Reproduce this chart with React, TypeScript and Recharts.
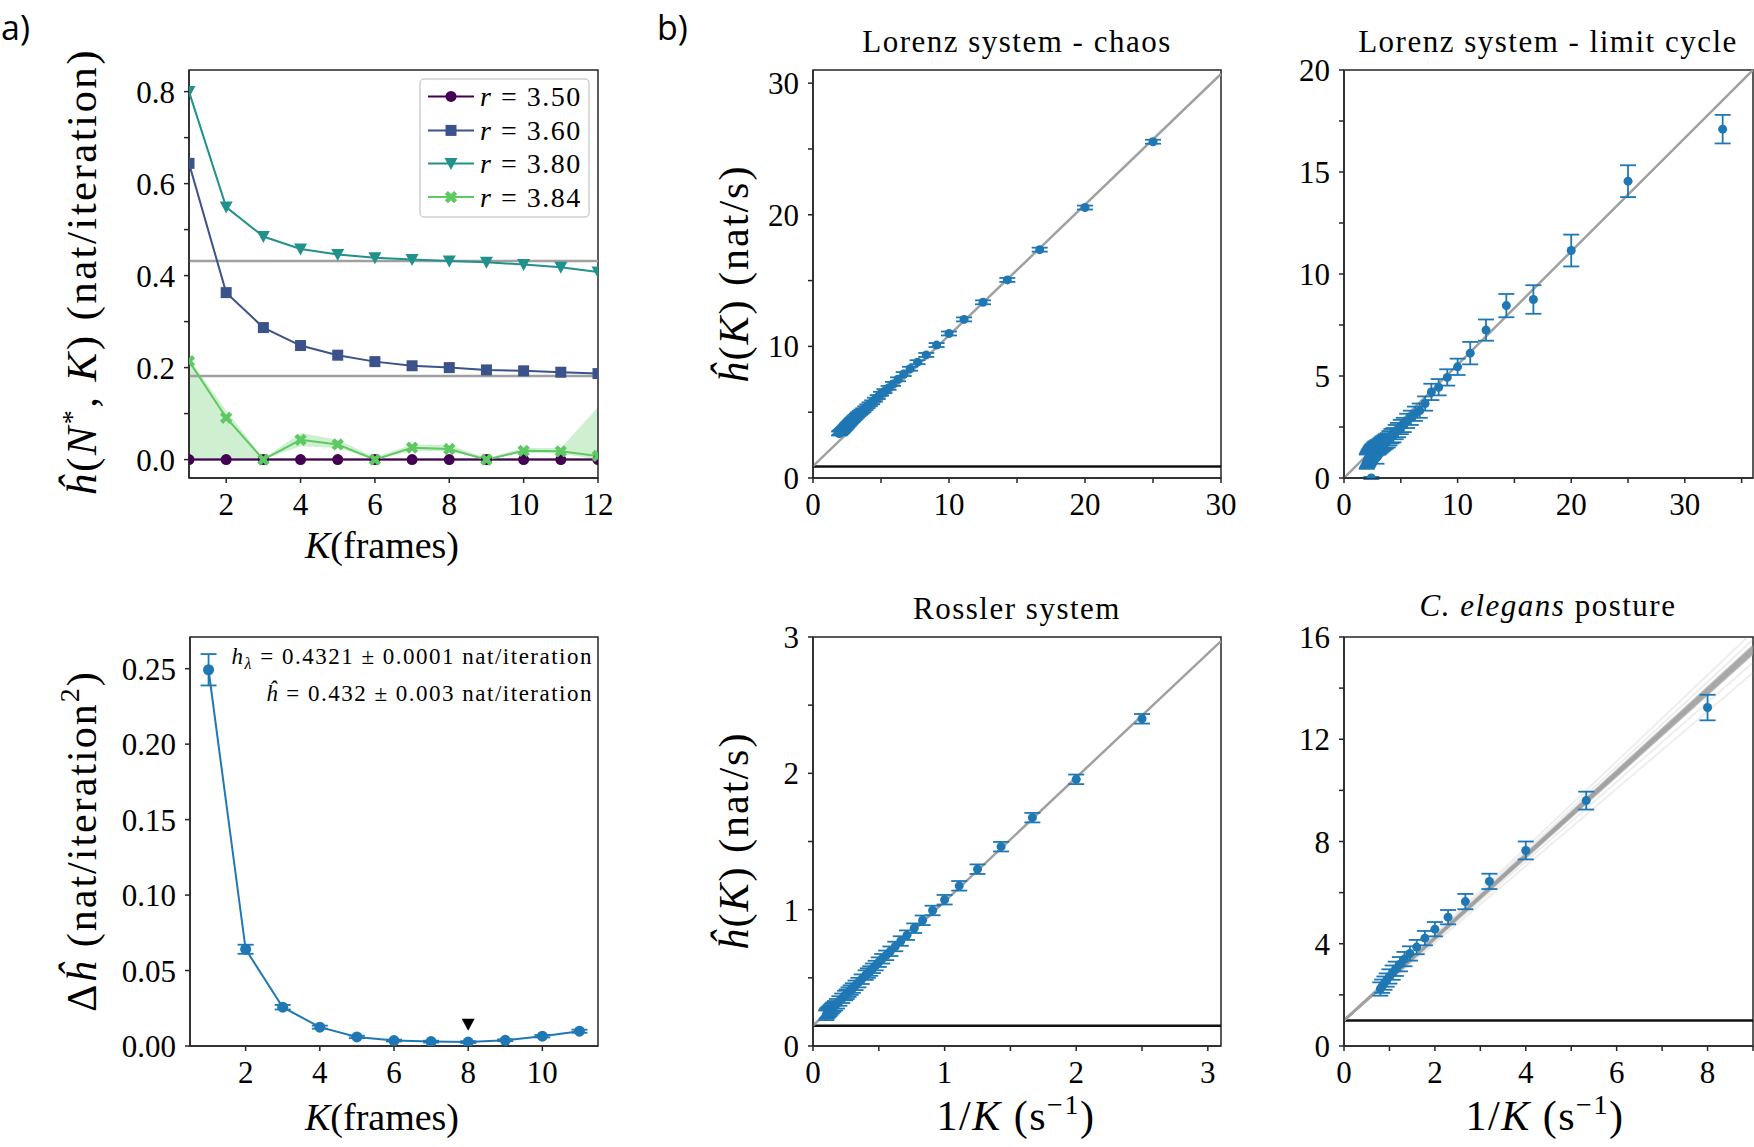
import React from 'react';
import {
  ComposedChart,
  Line,
  Area,
  Scatter,
  XAxis,
  YAxis,
  ErrorBar,
  ReferenceLine,
  ReferenceArea,
} from 'recharts';

const SERIF = "'Liberation Serif', 'DejaVu Serif', 'Noto Serif', serif";
const SANS = "'Open Sans', 'Noto Sans', sans-serif";
const BLUE = '#1f77b4';
const FIT = '#a0a0a0';
const AXIS = '#262626';

// ---- panel a, top: entropy rate vs K for the logistic map
const kFrames = [1, 2, 3, 4, 5, 6, 7, 8, 9, 10, 11, 12];
const h350 = [0, 0, 0, 0, 0, 0, 0, 0, 0, 0, 0, 0];
const h360 = [0.644, 0.363, 0.287, 0.248, 0.227, 0.213, 0.204, 0.2, 0.195, 0.193, 0.19, 0.187];
const h380 = [0.8, 0.549, 0.485, 0.458, 0.446, 0.439, 0.435, 0.432, 0.429, 0.424, 0.418, 0.408];
const h384 = [0.214, 0.091, 0.0, 0.043, 0.033, 0.0, 0.026, 0.023, 0.0, 0.019, 0.018, 0.008];
const h384Low = [0, 0, 0, 0.029, 0.025, 0, 0.019, 0.018, 0, 0.015, 0.013, 0];
const h384High = [0.22, 0.107, 0.002, 0.058, 0.043, 0.005, 0.033, 0.032, 0.003, 0.025, 0.025, 0.114];
const lyapunovRefs = [0.432, 0.182, 0];
const rLabels = ['3.50', '3.60', '3.80', '3.84'];
const rColors = ['#440154', '#3b528b', '#21918c', '#5ec962'];
const rMarkers = ['circle', 'square', 'tri', 'x'];
const rKeys = ['r350', 'r360', 'r380', 'r384'];
const aTopXTicks = [2, 4, 6, 8, 10, 12];
const aTopYTicks = [0, 0.1, 0.2, 0.3, 0.4, 0.5, 0.6, 0.7, 0.8];
const aTopYLabels = ['0.0', '', '0.2', '', '0.4', '', '0.6', '', '0.8'];

// ---- panel a, bottom: difference of entropy rates
const kDiff = [1, 2, 3, 4, 5, 6, 7, 8, 9, 10, 11];
const dh = [0.2493, 0.0641, 0.0257, 0.0125, 0.006, 0.0036, 0.0029, 0.0026, 0.0038, 0.0065, 0.0098];
const dhErr = [0.0104, 0.003, 0.0015, 0.001, 0.0008, 0.0006, 0.0006, 0.0006, 0.0006, 0.0008, 0.001];
const chosenK = [8];
const chosenMark = [0.0144];
const aBotXTicks = [2, 4, 6, 8, 10];
const aBotYTicks = [0, 0.05, 0.1, 0.15, 0.2, 0.25];
const aBotYLabels = ['0.00', '0.05', '0.10', '0.15', '0.20', '0.25'];

// ---- panel b: Lorenz chaos
const chaosInvK = [25, 20, 16.67, 14.29, 12.5, 11.11, 10, 9.09, 8.33, 7.69, 7.14, 6.67, 6.25, 5.88, 5.56, 5.26, 5, 4.76, 4.55, 4.35, 4.17, 4, 3.85, 3.7, 3.57, 3.45, 3.33, 3.23, 3.12, 3.03, 2.94, 2.86, 2.78, 2.7, 2.63, 2.56, 2.5, 2.44, 2.38, 2.33, 2.27, 2.22, 2.17, 2.13, 2.08, 2.04, 2, 1.96, 1.92];
const chaosH = [25.55, 20.55, 17.35, 15.05, 13.35, 12.05, 10.98, 10.1, 9.35, 8.8, 8.3, 7.9, 7.5, 7.15, 6.85, 6.6, 6.4, 6.15, 5.95, 5.75, 5.6, 5.45, 5.3, 5.15, 5.05, 4.95, 4.85, 4.75, 4.65, 4.55, 4.45, 4.38, 4.3, 4.2, 4.12, 4.05, 3.98, 3.9, 3.84, 3.78, 3.72, 3.66, 3.6, 3.56, 3.52, 3.48, 3.44, 3.41, 3.38];
const chaosErr = 0.15;
const chaosFit = [{ x: 0, y: 0.9 }, { x: 30, y: 30.7 }];
const chaosLyap = 0.88;

// ---- panel b: Lorenz limit cycle
const limitInvK = [33.33, 25, 20, 16.67, 14.29, 12.5, 11.11, 10, 9.09, 8.33, 7.69, 7.14, 6.67, 6.25, 5.88, 5.56, 5.26, 5, 4.76, 4.55, 4.35, 4.17, 4, 3.85, 3.7, 3.57, 3.45, 3.33, 3.23, 3.12, 3.03, 2.94, 2.86, 2.78, 2.7, 2.63, 2.56, 2.5, 2.44, 2.38, 2.33, 2.27, 2.22, 2.17, 2.13, 2.08, 2.04, 2, 2.4];
const limitH = [17.1, 14.55, 11.15, 8.75, 8.45, 7.25, 6.12, 5.45, 4.93, 4.45, 4.22, 3.65, 3.3, 3.15, 2.95, 2.8, 2.6, 2.5, 2.35, 2.25, 2.1, 2.05, 1.95, 1.85, 1.8, 1.75, 1.7, 1.65, 1.6, 1.55, 1.5, 1.5, 1.0, 1.45, 1.4, 1.35, 1.3, 1.3, 1.25, 1.2, 1.15, 1.1, 1.05, 1.0, 0.95, 0.9, 0.85, 0.8, 0.0];
const limitErr = [0.7, 0.78, 0.78, 0.7, 0.57, 0.52, 0.55, 0.4, 0.4, 0.4, 0.4, 0.35, 0.35, 0.35, 0.35, 0.35, 0.35, 0.35, 0.35, 0.35, 0.35, 0.35, 0.35, 0.35, 0.35, 0.35, 0.35, 0.35, 0.35, 0.35, 0.35, 0.35, 0.3, 0.35, 0.35, 0.35, 0.35, 0.35, 0.35, 0.35, 0.35, 0.35, 0.35, 0.35, 0.35, 0.35, 0.35, 0.35, 0.05];
const limitFit = [{ x: 0, y: 0 }, { x: 36, y: 20 }];

// ---- panel b: Rossler
const rossInvK = [2.5, 2, 1.667, 1.429, 1.25, 1.111, 1, 0.909, 0.833, 0.769, 0.714, 0.667, 0.625, 0.588, 0.556, 0.526, 0.5, 0.476, 0.455, 0.435, 0.417, 0.4, 0.37, 0.345, 0.323, 0.303, 0.286, 0.27, 0.256, 0.244, 0.222, 0.2, 0.182, 0.167, 0.154, 0.143, 0.133, 0.125, 0.118, 0.111, 0.105, 0.1];
const rossH = [2.4, 1.956, 1.675, 1.462, 1.297, 1.175, 1.073, 0.994, 0.922, 0.864, 0.813, 0.77, 0.73, 0.695, 0.665, 0.64, 0.615, 0.59, 0.57, 0.55, 0.535, 0.52, 0.49, 0.465, 0.445, 0.425, 0.41, 0.395, 0.38, 0.37, 0.35, 0.33, 0.31, 0.295, 0.285, 0.275, 0.265, 0.255, 0.25, 0.243, 0.236, 0.225];
const rossErr = 0.035;
const rossFit = [{ x: 0, y: 0.15 }, { x: 3.1, y: 2.97 }];
const rossLyap = 0.148;

// ---- panel b: C. elegans posture
const wormInvK = [8, 5.33, 4, 3.2, 2.67, 2.29, 2, 1.78, 1.6, 1.45, 1.33, 1.23, 1.14, 1.07, 1, 0.94, 0.89, 0.84, 0.8];
const wormH = [13.24, 9.6, 7.65, 6.44, 5.65, 5.04, 4.57, 4.22, 3.87, 3.62, 3.4, 3.2, 3.02, 2.87, 2.72, 2.58, 2.46, 2.34, 2.23];
const wormErr = [0.5, 0.35, 0.35, 0.3, 0.3, 0.28, 0.28, 0.28, 0.28, 0.28, 0.28, 0.28, 0.28, 0.28, 0.28, 0.26, 0.26, 0.26, 0.26];
// bootstrap fit lines: dense core plus a few faint outliers
const wormCoreEnds = [15.35, 15.4, 15.45, 15.5, 15.55, 15.6, 15.65];
const wormFaintEnds = [14.6, 15.0, 15.9, 16.2];
const wormFitStart = 1.0;
const wormLyap = 1.0;

const aTopRows = kFrames.map((k, i) => ({
  k,
  r350: h350[i],
  r360: h360[i],
  r380: h380[i],
  r384: h384[i],
  band: [h384Low[i], h384High[i]],
}));
const aBotRows = kDiff.map((k, i) => ({ k, dh: dh[i], err: dhErr[i] }));
const chosenRows = chosenK.map((k, i) => ({ k, mark: chosenMark[i] }));
const pts = (xs: number[], ys: number[], es: number[] | number) =>
  xs.map((x, i) => ({ x, y: ys[i], e: Array.isArray(es) ? es[i] : es }));

const YW = 100;
const XH = 70;
const TOP = 30;
const RIGHT = 40;

const A_TOP = { x: 189, y: 70, w: 409, h: 408 };
const A_BOT = { x: 190, y: 637, w: 408, h: 409 };
const B_CHAOS = { x: 813, y: 70, w: 408, h: 408 };
const B_LIMIT = { x: 1344, y: 70, w: 409, h: 408 };
const B_ROSS = { x: 813, y: 637, w: 408, h: 409 };
const B_WORM = { x: 1344, y: 637, w: 409, h: 409 };

const fmt = (ticks: number[], labels: string[]) => (v: number) => {
  const i = ticks.findIndex((t) => Math.abs(t - v) < 1e-6);
  return i >= 0 ? labels[i] : '';
};

const axisCommon = {
  type: 'number' as const,
  allowDataOverflow: true,
  interval: 0 as const,
  tickSize: 5,
  tickLine: { stroke: AXIS, strokeWidth: 1.5 },
  axisLine: { stroke: AXIS, strokeWidth: 1.5 },
  tick: { fill: '#000', fontSize: 31, style: { fontFamily: SERIF } },
};

function Marker({ kind, cx, cy, color }: { kind: string; cx: number; cy: number; color: string }) {
  if (cx == null || cy == null) return null;
  if (kind === 'circle') return <circle cx={cx} cy={cy} r={5.5} fill={color} />;
  if (kind === 'square') return <rect x={cx - 5.5} y={cy - 5.5} width={11} height={11} fill={color} />;
  if (kind === 'tri')
    return <polygon points={`${cx - 6.5},${cy - 5.5} ${cx + 6.5},${cy - 5.5} ${cx},${cy + 6.5}`} fill={color} />;
  const r = 6.5;
  const t = 2.2;
  const arms = [[t, r], [t, t], [r, t], [r, -t], [t, -t], [t, -r], [-t, -r], [-t, -t], [-r, -t], [-r, t], [-t, t], [-t, r]];
  return (
    <polygon
      points={arms.map(([a, b]) => `${cx + a},${cy + b}`).join(' ')}
      fill={color}
      transform={`rotate(45 ${cx} ${cy})`}
    />
  );
}

const blueDot = (p: any) => <circle key={p.index ?? `${p.cx}-${p.cy}`} cx={p.cx} cy={p.cy} r={4.5} fill={BLUE} />;

function Panel({ box, data, children }: { box: { x: number; y: number; w: number; h: number }; data?: any[]; children: React.ReactNode }) {
  return (
    <div style={{ position: 'absolute', left: box.x - YW, top: box.y - TOP, fontFamily: SERIF }}>
      <ComposedChart
        width={box.w + YW + RIGHT}
        height={box.h + TOP + XH}
        data={data}
        margin={{ top: TOP, right: RIGHT, bottom: 0, left: 0 }}
      >
        {children}
      </ComposedChart>
    </div>
  );
}

function frame(xd: number[], yd: number[]) {
  return (
    <ReferenceArea
      x1={xd[0]}
      x2={xd[1]}
      y1={yd[0]}
      y2={yd[1]}
      fill="none"
      stroke={AXIS}
      strokeWidth={1.5}
      ifOverflow="visible"
    />
  );
}

function ScatterPanel({
  box, xd, yd, xTicks, xLabels, yTicks, yLabels, data, fits, faint, lyap,
}: {
  box: any; xd: number[]; yd: number[]; xTicks: number[]; xLabels: string[]; yTicks: number[]; yLabels: string[];
  data: { x: number; y: number; e: number }[]; fits: { x: number; y: number }[][]; faint?: { x: number; y: number }[][]; lyap?: number;
}) {
  return (
    <Panel box={box}>
      <XAxis {...axisCommon} dataKey="x" domain={xd} ticks={xTicks} tickFormatter={fmt(xTicks, xLabels)} height={XH} tickMargin={10} />
      <YAxis {...axisCommon} dataKey="y" domain={yd} ticks={yTicks} tickFormatter={fmt(yTicks, yLabels)} width={YW} tickMargin={9} />
      {lyap !== undefined && <ReferenceLine y={lyap} stroke="#111" strokeWidth={2.5} ifOverflow="hidden" />}
      {(faint || []).map((seg, i) => (
        <ReferenceLine key={`f${i}`} segment={seg} stroke={FIT} strokeWidth={2} strokeOpacity={0.18} ifOverflow="hidden" />
      ))}
      {fits.map((seg, i) => (
        <ReferenceLine key={i} segment={seg} stroke={FIT} strokeWidth={2.5} strokeOpacity={faint ? 0.6 : 1} ifOverflow="hidden" />
      ))}
      <Scatter data={data} dataKey="y" fill={BLUE} shape={blueDot} isAnimationActive={false}>
        <ErrorBar dataKey="e" direction="y" width={8} stroke={BLUE} strokeWidth={1.8} />
      </Scatter>
      {frame(xd, yd)}
    </Panel>
  );
}

function Overlay() {
  const leg = [96.4, 130.4, 163.6, 197.1];
  return (
    <svg width={1754} height={1147} style={{ position: 'absolute', left: 0, top: 0, pointerEvents: 'none', fontFamily: SERIF }} fill="#000">
      <text x={1} y={40} style={{ fontFamily: SANS }} fontSize={34}>a)</text>
      <text x={657} y={40} style={{ fontFamily: SANS }} fontSize={34}>b)</text>

      <text x={1017} y={52} fontSize={31} letterSpacing={1.5} textAnchor="middle">Lorenz system - chaos</text>
      <text x={1548} y={52} fontSize={31} letterSpacing={1.5} textAnchor="middle">Lorenz system - limit cycle</text>
      <text x={1017} y={619} fontSize={31} letterSpacing={1.5} textAnchor="middle">Rossler system</text>
      <text x={1548} y={616} fontSize={31} letterSpacing={1.5} textAnchor="middle">
        <tspan fontStyle="italic">C. elegans</tspan> posture
      </text>

      <text transform="translate(96,272) rotate(-90)" fontSize={43} letterSpacing={2.4} textAnchor="middle">
        <tspan fontStyle="italic">ĥ</tspan>(<tspan fontStyle="italic">N</tspan>
        <tspan dy={-15} fontSize={28}>*</tspan>
        <tspan dy={15}>, </tspan>
        <tspan fontStyle="italic">K</tspan>) (nat/iteration)
      </text>
      <text x={382} y={558} fontSize={38} textAnchor="middle">
        <tspan fontStyle="italic">K</tspan>(frames)
      </text>

      <text transform="translate(96,841) rotate(-90)" fontSize={42} letterSpacing={2} textAnchor="middle">
        Δ<tspan fontStyle="italic">ĥ</tspan> (nat/iteration
        <tspan dy={-17} fontSize={28}>2</tspan>
        <tspan dy={17}>)</tspan>
      </text>
      <text x={382} y={1130} fontSize={38} textAnchor="middle">
        <tspan fontStyle="italic">K</tspan>(frames)
      </text>

      <text transform="translate(748,274) rotate(-90)" fontSize={42} letterSpacing={2} textAnchor="middle">
        <tspan fontStyle="italic">ĥ</tspan>(<tspan fontStyle="italic">K</tspan>) (nat/s)
      </text>
      <text transform="translate(748,841) rotate(-90)" fontSize={42} letterSpacing={2} textAnchor="middle">
        <tspan fontStyle="italic">ĥ</tspan>(<tspan fontStyle="italic">K</tspan>) (nat/s)
      </text>
      <text x={1016} y={1130} fontSize={42} letterSpacing={1.5} textAnchor="middle">
        1/<tspan fontStyle="italic">K</tspan> (s<tspan dy={-16} fontSize={28}>−1</tspan>
        <tspan dy={16}>)</tspan>
      </text>
      <text x={1545} y={1130} fontSize={42} letterSpacing={1.5} textAnchor="middle">
        1/<tspan fontStyle="italic">K</tspan> (s<tspan dy={-16} fontSize={28}>−1</tspan>
        <tspan dy={16}>)</tspan>
      </text>

      <rect x={420} y={79} width={169} height={138} rx={4} fill="#fff" fillOpacity={0.85} stroke="#d0d0d0" strokeWidth={1.5} />
      {rLabels.map((lab, i) => (
        <g key={lab}>
          <line x1={428} x2={474} y1={leg[i]} y2={leg[i]} stroke={rColors[i]} strokeWidth={2} />
          <Marker kind={rMarkers[i]} cx={451} cy={leg[i]} color={rColors[i]} />
          <text x={480} y={leg[i] + 9.5} fontSize={28} letterSpacing={1.5}>
            <tspan fontStyle="italic">r</tspan> = {lab}
          </text>
        </g>
      ))}

      <text x={593} y={664} fontSize={23} letterSpacing={1.5} textAnchor="end">
        <tspan fontStyle="italic">h</tspan>
        <tspan fontStyle="italic" fontSize={16} dy={5}>λ</tspan>
        <tspan dy={-5}> = 0.4321 ± 0.0001 nat/iteration</tspan>
      </text>
      <text x={593} y={701} fontSize={23} letterSpacing={1.5} textAnchor="end">
        <tspan fontStyle="italic">ĥ</tspan> = 0.432 ± 0.003 nat/iteration
      </text>
    </svg>
  );
}

export default function App() {
  const aTopXd = [1, 12];
  const aTopYd = [-0.04, 0.847];
  const aBotXd = [0.5, 11.5];
  const aBotYd = [0, 0.271];
  return (
    <div style={{ position: 'absolute', left: 0, top: 0, width: 1754, height: 1147, overflow: 'hidden', background: '#fff', fontFamily: SERIF }}>
      <Panel box={A_TOP} data={aTopRows}>
        <XAxis {...axisCommon} dataKey="k" domain={aTopXd} ticks={aTopXTicks} height={XH} tickMargin={10} />
        <YAxis {...axisCommon} domain={aTopYd} ticks={aTopYTicks} tickFormatter={fmt(aTopYTicks, aTopYLabels)} width={YW} tickMargin={9} />
        <Area dataKey="band" type="linear" stroke="none" fill={rColors[3]} fillOpacity={0.3} isAnimationActive={false} />
        {lyapunovRefs.map((v) => (
          <ReferenceLine key={v} y={v} stroke={FIT} strokeWidth={2.5} />
        ))}
        {rKeys.map((key, i) => (
          <Line
            key={key}
            dataKey={key}
            type="linear"
            stroke={rColors[i]}
            strokeWidth={2}
            isAnimationActive={false}
            dot={(p: any) => <Marker key={`${key}-${p.index}`} kind={rMarkers[i]} cx={p.cx} cy={p.cy} color={rColors[i]} />}
            activeDot={false}
          />
        ))}
        {frame(aTopXd, aTopYd)}
      </Panel>

      <Panel box={A_BOT} data={aBotRows}>
        <XAxis {...axisCommon} dataKey="k" domain={aBotXd} ticks={aBotXTicks} height={XH} tickMargin={10} />
        <YAxis {...axisCommon} domain={aBotYd} ticks={aBotYTicks} tickFormatter={fmt(aBotYTicks, aBotYLabels)} width={YW} tickMargin={9} />
        <Line
          dataKey="dh"
          type="linear"
          stroke={BLUE}
          strokeWidth={2}
          isAnimationActive={false}
          dot={(p: any) => <circle key={`dh-${p.index}`} cx={p.cx} cy={p.cy} r={5.5} fill={BLUE} />}
          activeDot={false}
        >
          <ErrorBar dataKey="err" direction="y" width={8} stroke={BLUE} strokeWidth={1.8} />
        </Line>
        <Scatter
          data={chosenRows}
          dataKey="mark"
          isAnimationActive={false}
          shape={(p: any) => <Marker kind="tri" cx={p.cx} cy={p.cy} color="#000" />}
        />
        {frame(aBotXd, aBotYd)}
      </Panel>

      <ScatterPanel
        box={B_CHAOS}
        xd={[0, 30]}
        yd={[0, 31]}
        xTicks={[0, 5, 10, 15, 20, 25, 30]}
        xLabels={['0', '', '10', '', '20', '', '30']}
        yTicks={[0, 5, 10, 15, 20, 25, 30]}
        yLabels={['0', '', '10', '', '20', '', '30']}
        data={pts(chaosInvK, chaosH, chaosErr)}
        fits={[chaosFit]}
        lyap={chaosLyap}
      />
      <ScatterPanel
        box={B_LIMIT}
        xd={[0, 36]}
        yd={[0, 20]}
        xTicks={[0, 5, 10, 15, 20, 25, 30, 35]}
        xLabels={['0', '', '10', '', '20', '', '30', '']}
        yTicks={[0, 2.5, 5, 7.5, 10, 12.5, 15, 17.5, 20]}
        yLabels={['0', '', '5', '', '10', '', '15', '', '20']}
        data={pts(limitInvK, limitH, limitErr)}
        fits={[limitFit]}
      />
      <ScatterPanel
        box={B_ROSS}
        xd={[0, 3.1]}
        yd={[0, 3]}
        xTicks={[0, 0.5, 1, 1.5, 2, 2.5, 3]}
        xLabels={['0', '', '1', '', '2', '', '3']}
        yTicks={[0, 0.5, 1, 1.5, 2, 2.5, 3]}
        yLabels={['0', '', '1', '', '2', '', '3']}
        data={pts(rossInvK, rossH, rossErr)}
        fits={[rossFit]}
        lyap={rossLyap}
      />
      <ScatterPanel
        box={B_WORM}
        xd={[0, 9]}
        yd={[0, 16]}
        xTicks={[0, 1, 2, 3, 4, 5, 6, 7, 8, 9]}
        xLabels={['0', '', '2', '', '4', '', '6', '', '8', '']}
        yTicks={[0, 2, 4, 6, 8, 10, 12, 14, 16]}
        yLabels={['0', '', '4', '', '8', '', '12', '', '16']}
        data={pts(wormInvK, wormH, wormErr)}
        fits={wormCoreEnds.map((end) => [{ x: 0, y: wormFitStart }, { x: 9, y: end }])}
        faint={wormFaintEnds.map((end) => [{ x: 0, y: wormFitStart }, { x: 9, y: end }])}
        lyap={wormLyap}
      />

      <Overlay />
    </div>
  );
}
